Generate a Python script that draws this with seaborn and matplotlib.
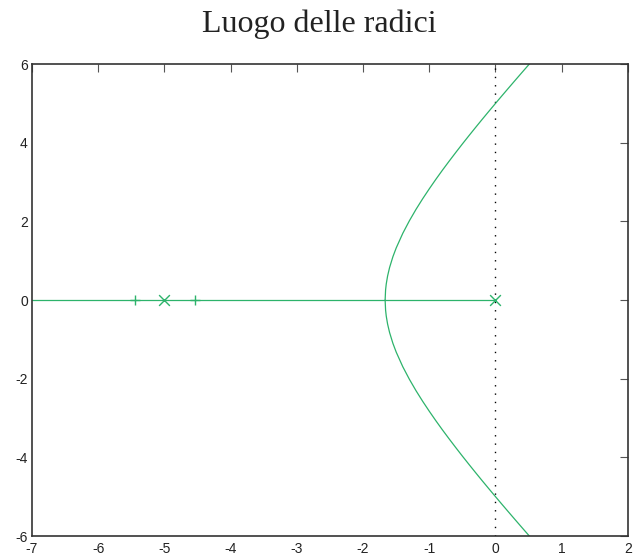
import matplotlib
matplotlib.use("Agg")
import matplotlib.pyplot as plt
import seaborn as sns
import pandas as pd

# Open-loop poles (marked with x) and closed-loop poles for the chosen gain (marked with +)
pole_re = [0.0, -5.0]
pole_im = [0.0, 0.0]
cl_re = [-5.44, -4.54]
cl_im = [0.0, 0.0]

# Real-axis segment of the locus
axis_re = [-7.0, 0.0]
axis_im = [0.0, 0.0]

# Upper complex branch, starting at the breakaway point
branch_re = [-1.667, -1.66, -1.65, -1.63, -1.6, -1.55, -1.5, -1.4, -1.3, -1.2, -1.1,
             -1.0, -0.9, -0.8, -0.7, -0.6, -0.5, -0.4, -0.3, -0.2, -0.1, 0.0,
             0.1, 0.2, 0.3, 0.4, 0.5, 0.52]
branch_im = [0.0, 0.258, 0.409, 0.609, 0.825, 1.099, 1.323, 1.697, 2.017, 2.307, 2.575,
             2.828, 3.071, 3.305, 3.531, 3.752, 3.969, 4.181, 4.390, 4.596, 4.799, 5.0,
             5.199, 5.396, 5.592, 5.786, 5.979, 6.018]

x_ticks = [-7, -6, -5, -4, -3, -2, -1, 0, 1, 2]
y_ticks = [-6, -4, -2, 0, 2, 4, 6]

sns.set_theme(style="white")
plt.rcParams["font.family"] = ["Liberation Sans", "DejaVu Sans"]

green = "#2db36b"

fig = plt.figure(figsize=(6.38, 5.57), dpi=100)
ax = fig.add_axes([0.0502, 0.0377, 0.934, 0.8473])

upper = pd.DataFrame({"re": branch_re, "im": branch_im})
lower = pd.DataFrame({"re": branch_re, "im": [-v for v in branch_im]})
sns.lineplot(data=upper, x="re", y="im", sort=False, color=green, lw=0.9, ax=ax)
sns.lineplot(data=lower, x="re", y="im", sort=False, color=green, lw=0.9, ax=ax)
sns.lineplot(x=axis_re, y=axis_im, color=green, lw=0.9, ax=ax)

# Imaginary axis
ax.axvline(0, color="black", lw=1.0, linestyle=(0, (1, 5)), zorder=1)

sns.scatterplot(x=pole_re, y=pole_im, marker="x", s=60, color=green,
                linewidth=1.0, ax=ax, zorder=3)
sns.scatterplot(x=cl_re, y=cl_im, marker="+", s=50, color=green,
                linewidth=1.0, ax=ax, zorder=3)

ax.set_xlim(-7, 2)
ax.set_ylim(-6, 6)
ax.set_xticks(x_ticks)
ax.set_yticks(y_ticks)
ax.set_xticklabels([str(t) for t in x_ticks])
ax.set_yticklabels([str(t) for t in y_ticks])
ax.set_xlabel("")
ax.set_ylabel("")

ax.tick_params(direction="in", length=6, width=0.8, color="#555555",
               top=True, right=True, labelsize=10, labelcolor="#222222")
ax.tick_params(axis="x", pad=4)
ax.tick_params(axis="y", pad=3)
for side in ax.spines.values():
    side.set_visible(True)
    side.set_color("#333333")
    side.set_linewidth(1.2)

fig.text(0.5, 0.957, "Luogo delle radici", ha="center", va="center",
         fontsize=23, family=["Liberation Serif", "DejaVu Serif"], color="#222222")

fig.savefig("out.png", dpi=100)
